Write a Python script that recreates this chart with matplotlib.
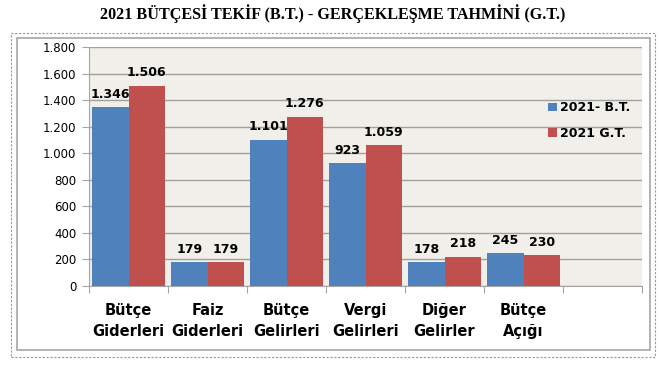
import matplotlib.pyplot as plt
import numpy as np
from matplotlib.patches import Rectangle

categories = ["Bütçe\nGiderleri", "Faiz\nGiderleri", "Bütçe\nGelirleri",
              "Vergi\nGelirleri", "Diğer\nGelirler", "Bütçe\nAçığı"]
bt_values = [1346, 179, 1101, 923, 178, 245]
gt_values = [1506, 179, 1276, 1059, 218, 230]
series_names = ["2021- B.T.", "2021 G.T."]
y_ticks = [0, 200, 400, 600, 800, 1000, 1200, 1400, 1600, 1800]


def fmt(v):
    return f"{v:,}".replace(",", ".")


fig = plt.figure(figsize=(6.66, 3.85), dpi=100)

# outer chart frame
fig.patches.append(Rectangle((17 / 666, 1 - 350 / 385), 633 / 666, 312 / 385,
                             transform=fig.transFigure, fill=False,
                             edgecolor="#a6a6a6", lw=1.2))
fig.patches.append(Rectangle((11 / 666, 1 - 357 / 385), 644 / 666, 324 / 385,
                             transform=fig.transFigure, fill=False,
                             edgecolor="#7f9bc8", lw=0.8, ls=(0, (2, 1.5))))

ax = fig.add_axes([89 / 666, 1 - 286 / 385, 553 / 666, 239 / 385])
ax.set_facecolor("#f0efe9")

n_slots = 7
x = np.arange(len(categories)) + 0.5
w = 0.465
b1 = ax.bar(x - w / 2, bt_values, w, color="#4f81bd", label=series_names[0], zorder=3)
b2 = ax.bar(x + w / 2, gt_values, w, color="#c0504d", label=series_names[1], zorder=3)

for bars, vals in ((b1, bt_values), (b2, gt_values)):
    for bar, v in zip(bars, vals):
        ax.text(bar.get_x() + bar.get_width() / 2, v + 50, fmt(v),
                ha="center", va="bottom", fontsize=9, fontweight="bold",
                zorder=4)

ax.set_xlim(0, n_slots)
ax.set_ylim(0, 1800)
ax.set_yticks(y_ticks)
ax.set_yticklabels([fmt(t) for t in y_ticks], fontsize=8.5)
ax.yaxis.grid(True, color="#a0a0a0", lw=1, zorder=0)

ax.set_xticks(np.arange(n_slots + 1))
ax.set_xticklabels([])
ax.set_xticks(x, minor=True)
ax.set_xticklabels(categories, minor=True, fontsize=10.5, fontweight="bold",
                   linespacing=1.5)
ax.tick_params(axis="x", which="minor", length=0, pad=12)
ax.tick_params(axis="x", which="major", length=5, color="#a6a6a6")
ax.tick_params(axis="y", length=5, color="#a6a6a6", pad=4)

for side in ("top", "right"):
    ax.spines[side].set_visible(False)
ax.spines["left"].set_color("#a6a6a6")
ax.spines["bottom"].set_color("#a6a6a6")

ax.legend(loc="upper right", bbox_to_anchor=(1.0, 0.82), frameon=False,
          handlelength=0.7, handleheight=0.7, handletextpad=0.3,
          labelspacing=1.0, prop={"weight": "bold", "size": 9})

fig.text(0.5, 1 - 14 / 385, "2021 BÜTÇESİ TEKİF (B.T.) - GERÇEKLEŞME TAHMİNİ (G.T.)",
         ha="center", va="center", fontsize=11.6, fontweight="bold",
         family="Liberation Serif")

fig.savefig("out.png", dpi=100)
